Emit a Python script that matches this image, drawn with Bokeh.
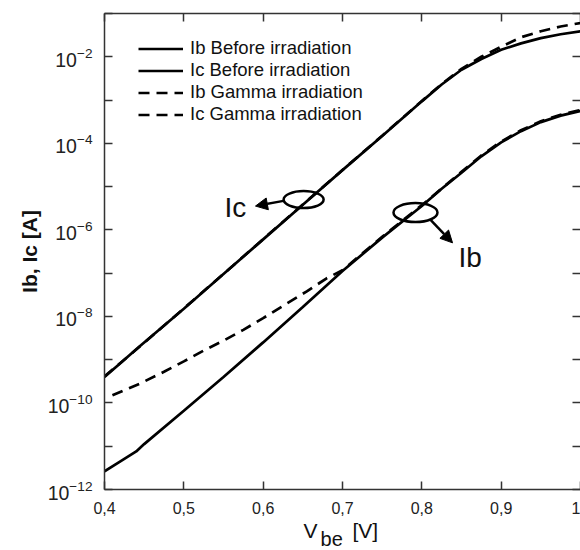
from bokeh.plotting import figure
from bokeh.layouts import column
from bokeh.models import (Range1d, FixedTicker, LogTickFormatter, LinearAxis, LogAxis,
                          Label, Arrow, NormalHead, Legend, LegendItem, CustomJSTickFormatter)
from bokeh.core.properties import value
from bokeh.embed import file_html
from bokeh.resources import INLINE

# ---------------- data ----------------
vbe_before = [0.40, 0.42, 0.44, 0.45, 0.50, 0.55, 0.60, 0.65, 0.70, 0.75, 0.80,
              0.825, 0.85, 0.875, 0.90, 0.925, 0.95, 0.975, 1.00]
ib_before = [2.63e-12, 4.47e-12, 7.59e-12, 1.12e-11, 6.61e-11, 3.98e-10, 2.51e-9,
             1.66e-8, 1.12e-7, 6.61e-7, 3.55e-6, 8.9e-6, 2.09e-5, 5.01e-5, 1.05e-4,
             1.91e-4, 3.09e-4, 4.37e-4, 5.62e-4]
ic_before = [4.0e-10, 8.3e-10, 1.74e-9, 2.5e-9, 1.51e-8, 9.55e-8, 6.03e-7, 3.80e-6,
             2.40e-5, 1.48e-4, 9.33e-4, 2.29e-3, 5.01e-3, 8.91e-3, 1.45e-2, 2.04e-2,
             2.69e-2, 3.31e-2, 3.89e-2]

vbe_ib_gamma = [0.41, 0.445, 0.475, 0.50, 0.525, 0.55, 0.575, 0.60, 0.63, 0.655, 0.68,
                0.70, 0.75, 0.80, 0.85, 0.875, 0.90, 0.925, 0.95, 0.975, 1.00]
ib_gamma = [1.51e-10, 2.82e-10, 5.25e-10, 9.12e-10, 1.62e-9, 2.75e-9, 4.90e-9, 9.12e-9,
            2.0e-8, 3.80e-8, 7.59e-8, 1.17e-7, 6.92e-7, 3.72e-6, 2.19e-5, 5.25e-5,
            1.10e-4, 2.0e-4, 3.24e-4, 4.57e-4, 5.89e-4]

vbe_ic_gamma = [0.40, 0.45, 0.50, 0.55, 0.60, 0.65, 0.70, 0.75, 0.80, 0.825, 0.85,
                0.875, 0.90, 0.925, 0.95, 0.975, 1.00]
ic_gamma = [4.1e-10, 2.45e-9, 1.53e-8, 9.6e-8, 6.1e-7, 3.85e-6, 2.42e-5, 1.50e-4,
            9.5e-4, 2.35e-3, 5.25e-3, 1.0e-2, 1.70e-2, 2.82e-2, 3.89e-2, 5.01e-2, 6.03e-2]

legend_labels = ["Ib Before irradiation", "Ic Before irradiation",
                 "Ib Gamma irradiation", "Ic Gamma irradiation"]

x_ticks = [0.4, 0.5, 0.6, 0.7, 0.8, 0.9, 1.0]
x_tick_labels = ["0,4", "0,5", "0,6", "0,7", "0,8", "0,9", "1"]
y_major = [1e-12, 1e-10, 1e-8, 1e-6, 1e-4, 1e-2]
y_minor = [1e-11, 1e-9, 1e-7, 1e-5, 1e-3, 1e-1]

# annotation anchors (data coords)
ic_mark = (0.651, 10 ** -5.30)
ib_mark = (0.792, 10 ** -5.60)
ic_arrow = ((0.6256, 10 ** -5.33), (0.5903, 10 ** -5.45))
ib_arrow = ((0.811, 10 ** -5.77), (0.8387, 10 ** -6.30))
ic_text = (0.5513, 10 ** -5.49)
ib_text = (0.8462, 10 ** -6.64)

# x-axis title pieces: (x in data units, baseline height in px, text, size)
xlabel_parts = [(0.6509, 20.5, "V", "21px"), (0.6723, 12.0, "be", "20px"),
                (0.7126, 20.5, "[V]", "21px")]

FONT = "Liberation Sans"

p = figure(width=580, height=518, output_backend="svg", toolbar_location=None,
           x_axis_type="linear", y_axis_type="log",
           x_range=Range1d(0.4, 1.0), y_range=Range1d(1e-12, 1e-1),
           min_border_left=104, min_border_right=0, min_border_top=13, min_border_bottom=29)
p.background_fill_color = "white"
p.border_fill_color = "white"
p.outline_line_color = None
p.xgrid.visible = False
p.ygrid.visible = False

AX = "#333333"

def style_axis(ax):
    ax.axis_line_color = AX
    ax.axis_line_width = 1.5
    ax.major_tick_line_color = AX
    ax.minor_tick_line_color = AX
    ax.major_tick_line_width = 1.5
    ax.minor_tick_line_width = 1.5
    ax.major_tick_in = 8
    ax.major_tick_out = 0
    ax.minor_tick_in = 8
    ax.minor_tick_out = 0

# bottom axis
xa = p.xaxis[0]
xa.ticker = FixedTicker(ticks=x_ticks, minor_ticks=[])
xa.major_label_overrides = dict(zip(x_ticks, x_tick_labels))
style_axis(xa)
xa.major_label_text_font = FONT
xa.major_label_text_font_size = "16px"
xa.major_label_text_color = "#222222"
xa.major_label_standoff = 12

# left axis
ya = p.yaxis[0]
ya.ticker = FixedTicker(ticks=y_major, minor_ticks=y_minor)
ya.formatter = LogTickFormatter()
style_axis(ya)
ya.major_label_text_font = FONT
ya.major_label_text_font_size = "19.5px"
ya.major_label_text_color = "#222222"
ya.major_label_standoff = 12
ya.axis_label = "Ib, Ic [A]"
ya.axis_label_text_font = FONT
ya.axis_label_text_font_style = "bold"
ya.axis_label_text_font_size = "21px"
ya.axis_label_text_color = "#111111"
ya.axis_label_standoff = 4

blank = CustomJSTickFormatter(code="return ''")
top = LinearAxis(ticker=FixedTicker(ticks=x_ticks, minor_ticks=[]), formatter=blank,
                 major_label_standoff=0)
style_axis(top)
p.add_layout(top, "above")
right = LogAxis(ticker=FixedTicker(ticks=y_major, minor_ticks=y_minor), formatter=blank,
                major_label_standoff=0)
style_axis(right)
right.axis_line_color = None
p.add_layout(right, "right")

LW = 2.7
DASH = "11 7"
r_ibg = p.line(vbe_ib_gamma, ib_gamma, line_color="black", line_width=LW, line_dash=DASH)
r_icg = p.line(vbe_ic_gamma, ic_gamma, line_color="black", line_width=LW, line_dash=DASH)
r_ib = p.line(vbe_before, ib_before, line_color="black", line_width=LW)
r_ic = p.line(vbe_before, ic_before, line_color="black", line_width=LW)

legend = Legend(items=[LegendItem(label=legend_labels[0], renderers=[r_ib]),
                       LegendItem(label=legend_labels[1], renderers=[r_ic]),
                       LegendItem(label=legend_labels[2], renderers=[r_ibg]),
                       LegendItem(label=legend_labels[3], renderers=[r_icg])],
                location=(34, 364), padding=0, spacing=0, margin=0,
                glyph_width=45, glyph_height=21, label_height=21, label_standoff=7,
                label_text_font=FONT, label_text_font_size="18.5px",
                label_text_color="#111111",
                border_line_color=None, background_fill_alpha=0)
p.add_layout(legend, "center")

# ellipses marking the curves
p.ellipse(x=[ic_mark[0], ib_mark[0]], y=[ic_mark[1], ib_mark[1]],
          width=[40, 44], height=[17, 19], width_units="screen", height_units="screen",
          fill_color=None, line_color="black", line_width=2.5)

for (s, e) in (ic_arrow, ib_arrow):
    p.add_layout(Arrow(x_start=s[0], y_start=s[1], x_end=e[0], y_end=e[1],
                       line_color="black", line_width=2.5,
                       end=NormalHead(size=12, fill_color="black", line_color="black")))

for (pos, txt) in ((ic_text, "Ic"), (ib_text, "Ib")):
    p.add_layout(Label(x=pos[0], y=pos[1], text=txt, text_font=FONT,
                       text_font_size="28px", text_color="#111111",
                       text_baseline="alphabetic"))

# strip under the plot carrying the x-axis title (V with subscript "be")
p2 = figure(width=580, height=32, output_backend="svg", toolbar_location=None,
            x_range=p.x_range, y_range=Range1d(0, 32),
            x_axis_location=None, y_axis_location=None,
            min_border_left=104, min_border_right=0, min_border_top=0, min_border_bottom=0)
p2.outline_line_color = None
p2.xgrid.visible = False
p2.ygrid.visible = False
p2.background_fill_color = "white"
p2.border_fill_color = "white"
for (x, y, t, fs) in xlabel_parts:
    p2.text(x=[x], y=[y], text=[t], text_font=value(FONT), text_font_size=fs,
            text_color="#111111", text_baseline="alphabetic", text_align="left")

layout = column(p, p2, spacing=0)
open("out.html", "w").write(file_html(layout, INLINE))
